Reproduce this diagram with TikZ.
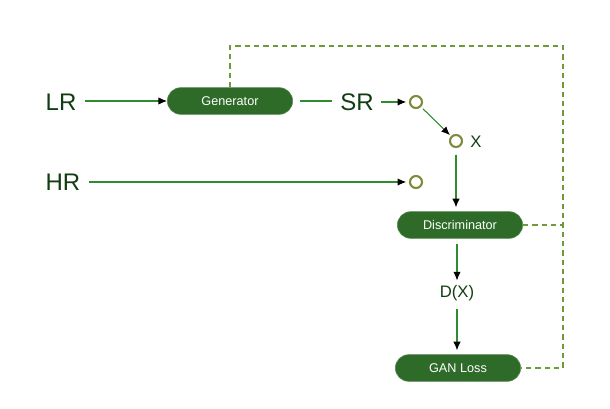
\documentclass[tikz,border=0pt]{standalone}
\usepackage{fontspec}
\setmainfont{Liberation Sans}
\usetikzlibrary{arrows.meta}
\definecolor{ganfill}{HTML}{2E6B28}
\definecolor{ganline}{HTML}{2E8B2E}
\definecolor{gantext}{HTML}{123D12}
\definecolor{gandash}{HTML}{6E9A3A}
\definecolor{ganring}{HTML}{7D8C3C}

\begin{document}
\begin{tikzpicture}[
            x = 0.75pt, y = -0.75pt,
            block/.style = {draw = ganfill!80!white, fill = ganfill, rounded corners = 10pt, minimum width = 94pt, minimum height = 20pt, text = white, font = \fontsize{9.5}{11}\selectfont},
            iotext/.style = {text = gantext, font = \fontsize{18}{20}\selectfont},
            small/.style = {text = gantext, font = \fontsize{12.5}{14}\selectfont},
            ring/.style = {draw = ganring, circle, line width = 1.6pt, minimum size = 9pt, inner sep = 0pt},
            flow/.style = {draw = ganline, line width = 0.8pt, -{Latex[length=6.5pt, width=5.5pt, color=black]}},
            fb/.style = {draw = gandash, line width = 1.1pt, dash pattern = on 4pt off 3pt}
        ]
        \useasboundingbox (0,0) rectangle (610,409);
        % inputs
        \node[iotext] (LR) at (61,102) {LR};
        \node[iotext] (HR) at (63,182) {HR};
        \node[block] (G) at (230,101) {Generator};
        \node[iotext] (SR) at (357,102) {SR};
        \node[ring] (S1) at (416,102) {};
        \node[ring] (S2) at (416,182) {};
        \node[ring] (X) at (456,141) {};
        \node[small] (XL) at (476,142) {X};
        % discriminator branch
        \node[block] (D) at (460,225) {Discriminator};
        \node[small] (DX) at (457,293) {D(X)};
        \node[block] (L) at (458,368) {GAN Loss};
        \coordinate (T) at (563,46);
        \coordinate (B) at (563,368);
        \coordinate (M) at (563,225);

        \draw[flow] ([xshift=3pt]LR.east |- G.west) -- (G.west);
        \draw[draw = ganline, line width = 0.8pt] ([xshift=5pt]G.east) -- ([xshift=-3pt]SR.west |- G.east);
        \draw[flow] ([xshift=2pt]SR.east |- S1.west) -- ([xshift=-2pt]S1.west);
        \draw[flow] ([xshift=3pt]HR.east |- S2.west) -- ([xshift=-2pt]S2.west);
        \draw[flow, shorten <= 2pt, shorten >= 1pt] (S1) -- (X);
        \draw[flow] ([yshift=-5pt]X.south) -- ([yshift=3pt]X.south |- D.north);
        \draw[flow] ([yshift=-4pt]DX.north |- D.south) -- (DX.north);
        \draw[flow] ([yshift=-3pt]DX.south) -- ([yshift=3pt]DX.south |- L.north);
        % feedback
        \draw[fb] (G.north) |- (T) -- (B) -- (L.east);
        \draw[fb] (D.east) -- (M);
    \end{tikzpicture}
\end{document}
